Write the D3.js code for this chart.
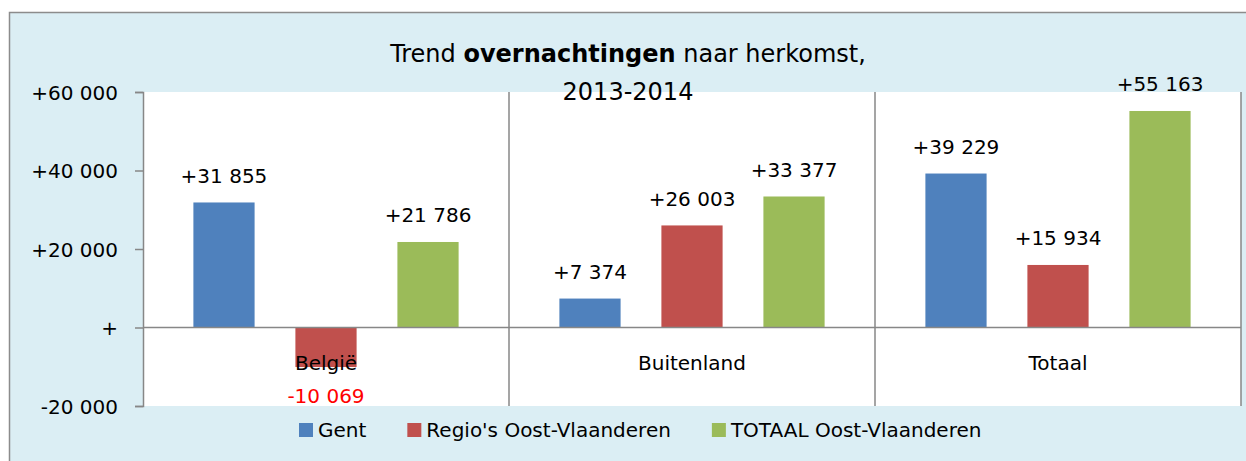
<!DOCTYPE html>
<html><head><meta charset="utf-8">
<script src="https://cdn.jsdelivr.net/npm/d3@7"></script>
<style>body{margin:0;background:#fff;} svg{display:block;font-family:"DejaVu Sans",sans-serif;}</style>
</head><body>
<svg id="chart" width="1246" height="461"></svg>
<script>
const categories = ["België", "Buitenland", "Totaal"];
const seriesNames = ["Gent", "Regio's Oost-Vlaanderen", "TOTAAL Oost-Vlaanderen"];
const gentValues = [31855, 7374, 39229];
const regioValues = [-10069, 26003, 15934];
const totaalValues = [21786, 33377, 55163];
const seriesColors = ["#4F81BD", "#C0504D", "#9BBB59"];
const yTicks = [-20000, 0, 20000, 40000, 60000];

const seriesValues = [gentValues, regioValues, totaalValues];
const svg = d3.select("#chart");
const gray = "#878787";

// outer background
svg.append("rect").attr("x", 9.5).attr("y", 12.5).attr("width", 1260).attr("height", 470)
  .attr("fill", "#DBEEF4").attr("stroke", "#8c8c8c").attr("stroke-width", 1.5);

const plot = {left: 143, right: 1241, top: 92, bottom: 406};
svg.append("rect").attr("x", plot.left).attr("y", plot.top)
  .attr("width", plot.right - plot.left).attr("height", plot.bottom - plot.top).attr("fill", "#fff");

const y = d3.scaleLinear().domain([-20000, 60000]).range([plot.bottom, plot.top]);
const x0 = d3.scaleBand().domain(categories).range([plot.left, plot.right]).padding(0);
const x1 = d3.scaleBand().domain(seriesNames).range([0, x0.bandwidth()]).paddingInner(0.4).paddingOuter(0.494);

const fmtNum = v => {
  if (v === 0) return "+";
  const s = d3.format(",")(Math.abs(v)).replace(/,/g, " ");
  return (v > 0 ? "+" : "-") + s;
};

// dividers
const divX = categories.slice(1).map(c => x0(c)).concat([plot.right]);
svg.selectAll("line.div").data(divX).join("line")
  .attr("x1", d => d).attr("x2", d => d).attr("y1", plot.top).attr("y2", plot.bottom)
  .attr("stroke", gray).attr("stroke-width", 1.5);

// title
const title = svg.append("text").attr("text-anchor", "middle").attr("font-size", 24).attr("fill", "#000");
const t1 = title.append("tspan").attr("x", 628).attr("y", 62);
t1.append("tspan").text("Trend ");
t1.append("tspan").attr("font-weight", "bold").text("overnachtingen");
t1.append("tspan").text(" naar herkomst,");
title.append("tspan").attr("x", 628).attr("y", 100).text("2013-2014");

// bars
const rows = [];
categories.forEach((c, i) => seriesNames.forEach((s, j) => rows.push({c, s, j, v: seriesValues[j][i]})));
svg.selectAll("rect.bar").data(rows).join("rect")
  .attr("x", d => x0(d.c) + x1(d.s))
  .attr("width", x1.bandwidth())
  .attr("y", d => y(Math.max(0, d.v)))
  .attr("height", d => Math.abs(y(d.v) - y(0)))
  .attr("fill", d => seriesColors[d.j]);

// zero line
svg.append("line").attr("x1", plot.left).attr("x2", plot.right).attr("y1", y(0)).attr("y2", y(0))
  .attr("stroke", gray).attr("stroke-width", 1.5);

// y axis
const yAxis = d3.axisLeft(y).tickValues(yTicks).tickSize(8).tickPadding(17).tickFormat(fmtNum);
const ga = svg.append("g").attr("transform", `translate(${plot.left},0)`).call(yAxis);
ga.select(".domain").attr("stroke", gray).attr("stroke-width", 1.5);
ga.selectAll(".tick line").attr("stroke", gray).attr("stroke-width", 1.5);
ga.selectAll(".tick text").attr("font-size", 20).attr("fill", "#000")
  .attr("font-family", "DejaVu Sans").attr("dy", "0.36em");

// category labels
svg.selectAll("text.cat").data(categories).join("text")
  .attr("x", d => x0(d) + x0.bandwidth() / 2).attr("y", 370)
  .attr("text-anchor", "middle").attr("font-size", 20).attr("fill", "#000").text(d => d);

// data labels
svg.selectAll("text.lbl").data(rows).join("text")
  .attr("x", d => x0(d.c) + x1(d.s) + x1.bandwidth() / 2)
  .attr("y", d => d.v >= 0 ? y(d.v) - 19.5 : y(d.v) + 36)
  .attr("text-anchor", "middle").attr("font-size", 20)
  .attr("fill", d => d.v >= 0 ? "#000" : "#FF0000")
  .text(d => fmtNum(d.v));

// legend
const lg = svg.append("g");
let lx = 299;
seriesNames.forEach((s, j) => {
  lg.append("rect").attr("x", lx).attr("y", 423).attr("width", 14).attr("height", 14).attr("fill", seriesColors[j]);
  const t = lg.append("text").attr("x", lx + 19).attr("y", 437).attr("font-size", 20).attr("fill", "#000").text(s);
  lx += 19 + t.node().getComputedTextLength() + 41;
});
</script>
</body></html>
